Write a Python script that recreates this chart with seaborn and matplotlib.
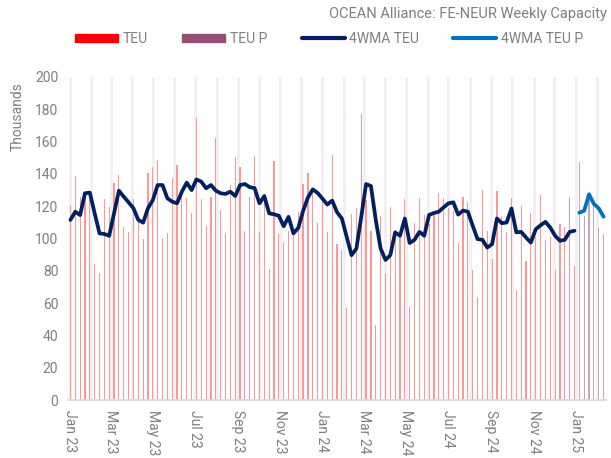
import pandas as pd
import numpy as np
import matplotlib
matplotlib.use('Agg')
import matplotlib.pyplot as plt
from matplotlib.patches import Patch
from matplotlib.lines import Line2D
import seaborn as sns

# ============================================================
# DATA (thousand TEU per week, weeks from 2 Jan 2023)
# ============================================================
teu = [120.7, 138.9, 125.5, 126.1, 124.1, 84.2, 78.4, 124.5, 119.7, 134.2,
       139.1, 107.3, 104.2, 124.2, 110.3, 99.5, 140.5, 144.5, 148.8, 100.3,
       103.2, 137.3, 145.5, 130.0, 124.9, 115.6, 174.8, 124.5, 107.9, 125.9,
       162.4, 117.6, 103.2, 133.1, 150.5, 144.0, 104.4, 125.9, 150.9, 103.8,
       124.6, 81.1, 148.0, 102.8, 98.0, 104.8, 105.0, 116.6, 133.7, 140.4,
       131.3, 109.8, 125.0, 103.8, 151.6, 96.8, 93.0, 56.8, 115.2, 118.7,
       177.3, 123.6, 104.8, 46.4, 114.1, 78.4, 119.7, 105.3, 103.4, 124.5,
       57.4, 109.8, 124.9, 114.7, 109.0, 114.6, 128.4, 125.2, 119.0, 117.0,
       97.2, 126.0, 122.3, 80.3, 64.0, 130.0, 104.7, 87.3, 129.6, 114.0,
       104.2, 124.9, 68.0, 120.0, 86.1, 115.6, 101.0, 126.8, 99.1, 100.7,
       80.5, 108.8, 107.4, 125.9, 83.0]
teu_p = [147.4, 114.0, 124.0, 120.0, 106.3, 102.6]

wma_teu = [111.5, 116.6, 114.5, 128.0, 128.4, 115.6, 103.2, 102.8, 101.7, 115.6,
           129.6, 125.9, 122.4, 118.7, 111.5, 109.8, 118.7, 123.8, 133.1, 133.1,
           124.9, 122.8, 121.8, 129.0, 134.6, 130.0, 136.6, 135.2, 131.1, 133.1,
           129.6, 128.0, 127.6, 129.0, 126.3, 133.1, 133.7, 131.8, 131.2, 121.8,
           126.3, 115.6, 115.0, 114.1, 107.6, 113.4, 103.2, 106.5, 117.0, 125.4,
           130.4, 128.2, 124.7, 121.0, 123.5, 116.3, 112.4, 101.0, 89.7, 93.8,
           113.4, 133.7, 132.5, 111.5, 93.8, 86.7, 89.7, 103.8, 101.7, 112.4,
           97.2, 99.2, 104.1, 101.7, 114.6, 115.8, 116.6, 119.3, 121.8, 122.4,
           114.8, 117.3, 116.6, 107.9, 99.6, 99.2, 94.4, 96.5, 112.4, 109.5,
           109.9, 118.6, 103.8, 104.1, 100.6, 97.5, 105.7, 108.2, 110.3, 106.8,
           101.7, 98.6, 99.2, 104.1, 104.8]
wma_teu_p = [116.0, 117.2, 127.4, 121.4, 118.7, 113.5]

start = pd.Timestamp('2023-01-02')
weeks = np.arange(len(teu))
weeks_p = np.arange(len(teu), len(teu) + len(teu_p))

months = pd.date_range('2023-01-01', '2025-02-01', freq='MS')
month_pos = [(m - start).days / 7 for m in months]
month_lbl = [m.strftime('%b %y') if m.month % 2 == 1 else '' for m in months]

# ============================================================
# PLOT
# ============================================================
sns.set_style('white')
plt.rcParams['font.family'] = ['Roboto', 'DejaVu Sans']
grey = '#7f7f7f'

fig = plt.figure(figsize=(6.11, 4.58), dpi=100)
ax = fig.add_axes([68 / 611, 1 - 400 / 458, 538 / 611, 323 / 458])

ax.grid(axis='x', color='#f0f0f0', lw=2)
ax.set_axisbelow(True)

sns.barplot(x=weeks, y=teu, native_scale=True, width=0.24, color='#ff9595',
            saturation=1, linewidth=0, ax=ax)
sns.barplot(x=weeks_p, y=teu_p, native_scale=True, width=0.24, color='#c8a6b6',
            saturation=1, linewidth=0, ax=ax)
sns.lineplot(x=weeks, y=wma_teu, color='#002060', lw=2.7, ax=ax, zorder=3)
sns.lineplot(x=weeks_p, y=wma_teu_p, color='#0070c0', lw=2.7, ax=ax, zorder=3)

ax.set_xlim(-0.5, len(teu) + len(teu_p) - 0.5)
ax.set_ylim(0, 200)
ax.set_yticks(range(0, 201, 20))
ax.set_xticks(month_pos)
ax.set_xticklabels(month_lbl, rotation=270, ha='center', va='top')
ax.tick_params(axis='both', length=0, labelsize=10, colors=grey)
ax.tick_params(axis='x', pad=7)
ax.tick_params(axis='y', pad=7)
ax.set_xlabel('')
ax.set_ylabel('')
for s in ['top', 'right', 'left']:
    ax.spines[s].set_visible(False)
ax.spines['bottom'].set_color('#d9d9d9')
ax.spines['bottom'].set_linewidth(1.2)

fig.text(18 / 611, 1 - 117 / 458, 'Thousands', rotation=90, ha='center',
         va='center', color=grey, fontsize=10)
fig.text(607 / 611, 1 - 14 / 458, 'OCEAN Alliance: FE-NEUR Weekly Capacity',
         ha='right', va='center', color=grey, fontsize=10.5)

handles = [Patch(color='#ff0000', label='TEU'),
           Patch(color='#954f72', label='TEU P'),
           Line2D([], [], color='#002060', lw=3, solid_capstyle='round', label='4WMA TEU'),
           Line2D([], [], color='#0070c0', lw=3, solid_capstyle='round', label='4WMA TEU P')]
leg = fig.legend(handles=handles, ncol=4, loc='center', bbox_to_anchor=(329 / 611, 1 - 39 / 458),
                 frameon=False, fontsize=10, handlelength=3.1, handleheight=0.55,
                 handletextpad=0.3, columnspacing=2.5, labelcolor=grey)

plt.savefig('out.png', dpi=100)
